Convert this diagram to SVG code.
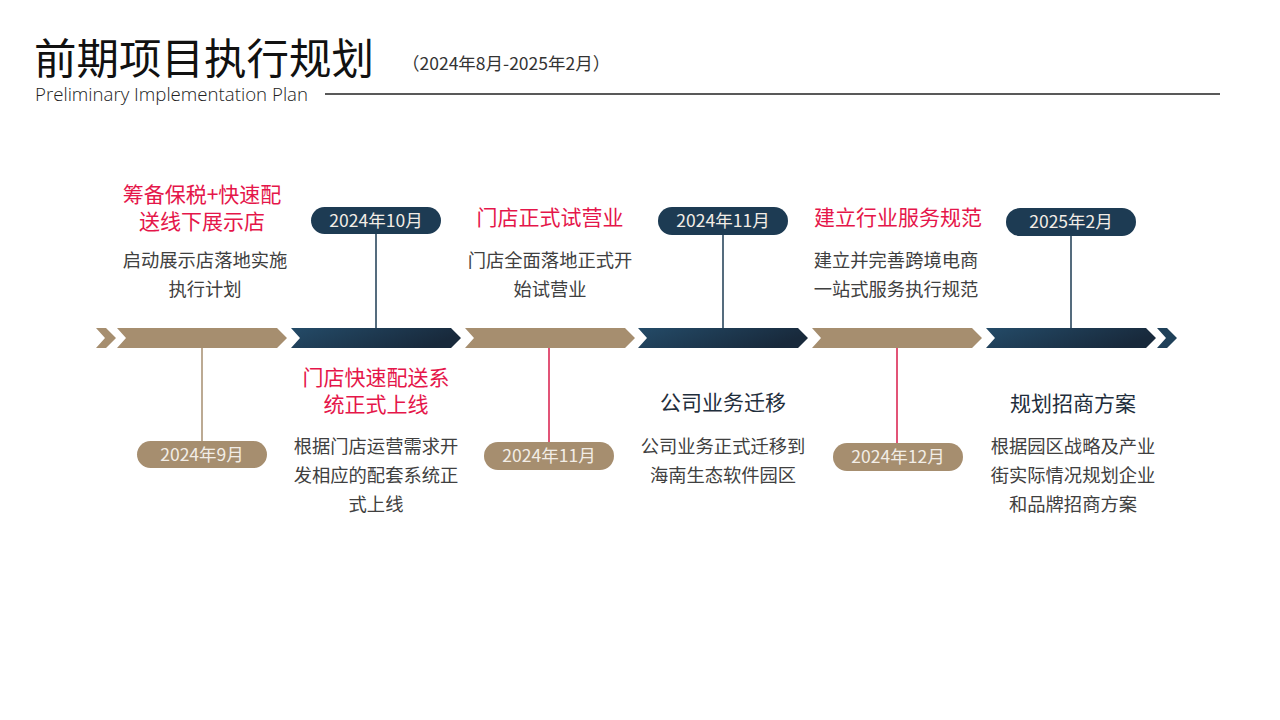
<svg xmlns="http://www.w3.org/2000/svg" width="1280" height="720" viewBox="0 0 1280 720">
<defs>
<linearGradient id="blueGrad" x1="0" y1="0" x2="1" y2="0.3">
<stop offset="0" stop-color="#244b68"/>
<stop offset="1" stop-color="#18293b"/>
</linearGradient>
<polygon id="chev" points="0,328 160,328 170,338 160,348 0,348 9,338"/>
<style>
.cjk{font-family:"Noto Sans CJK SC","Noto Sans",sans-serif;}
.title{font-size:21px;fill:#e5164a;text-anchor:middle;}
.dtitle{font-size:21px;fill:#1f2e3c;text-anchor:middle;}
.desc{font-size:18.3px;fill:#404040;text-anchor:middle;}
.pilltxt{font-size:17.5px;fill:#f2ede6;text-anchor:middle;}
.brown{fill:#a68e6f;}
.blue{fill:url(#blueGrad);}
.pillblue{fill:#1d3b53;}
</style>
</defs>
<rect width="1280" height="720" fill="#ffffff"/>

<g id="header">
<text x="34" y="74" class="cjk" font-size="42.5" fill="#111111">前期项目执行规划</text>
<text x="402" y="70" class="cjk" font-size="17.5" fill="#333333">（2024年8月-2025年2月）</text>
<text x="35" y="101" font-family="'Open Sans','Noto Sans',sans-serif" font-size="18" fill="#222222" font-weight="300" textLength="273" lengthAdjust="spacingAndGlyphs">Preliminary Implementation Plan</text>
<line x1="325" y1="94" x2="1220" y2="94" stroke="#222222" stroke-width="1.5"/>
</g>

<g id="timeline">
<polygon class="brown" points="96,328 106,328 116,338 106,348 96,348 105,338"/>
<use href="#chev" x="117" class="brown"/>
<use href="#chev" x="291" class="blue"/>
<use href="#chev" x="465" class="brown"/>
<use href="#chev" x="638" class="blue"/>
<use href="#chev" x="812" class="brown"/>
<use href="#chev" x="986" class="blue"/>
<polygon fill="#1f4059" points="1157,328 1167,328 1177,338 1167,348 1157,348 1166,338"/>
</g>

<g id="connectors" stroke-width="1.5">
<line x1="202" y1="348" x2="202" y2="441" stroke="#a68e6f"/>
<line x1="376" y1="234" x2="376" y2="328" stroke="#1d3b53"/>
<line x1="549" y1="348" x2="549" y2="442" stroke="#d81b4a"/>
<line x1="723" y1="235" x2="723" y2="328" stroke="#1d3b53"/>
<line x1="897" y1="348" x2="897" y2="443" stroke="#d81b4a"/>
<line x1="1071" y1="235" x2="1071" y2="328" stroke="#1d3b53"/>
</g>

<g id="node1" class="cjk">
<text class="title" x="202" y="202">筹备保税+快速配</text>
<text class="title" x="202" y="229">送线下展示店</text>
<text class="desc" x="205" y="267">启动展示店落地实施</text>
<text class="desc" x="205" y="296">执行计划</text>
<rect class="brown" x="137" y="441" width="130" height="27" rx="13.5"/>
<text class="pilltxt" x="202" y="461">2024年9月</text>
</g>

<g id="node2" class="cjk">
<rect class="pillblue" x="311" y="207" width="130" height="27" rx="13.5"/>
<text class="pilltxt" x="376" y="227">2024年10月</text>
<text class="title" x="376" y="385">门店快速配送系</text>
<text class="title" x="376" y="412">统正式上线</text>
<text class="desc" x="376" y="453">根据门店运营需求开</text>
<text class="desc" x="376" y="482">发相应的配套系统正</text>
<text class="desc" x="376" y="511">式上线</text>
</g>

<g id="node3" class="cjk">
<text class="title" x="550" y="225">门店正式试营业</text>
<text class="desc" x="550" y="267">门店全面落地正式开</text>
<text class="desc" x="550" y="296">始试营业</text>
<rect class="brown" x="484" y="442" width="130" height="28" rx="14"/>
<text class="pilltxt" x="549" y="462">2024年11月</text>
</g>

<g id="node4" class="cjk">
<rect class="pillblue" x="658" y="207" width="130" height="28" rx="14"/>
<text class="pilltxt" x="723" y="227">2024年11月</text>
<text class="dtitle" x="723" y="410">公司业务迁移</text>
<text class="desc" x="723" y="453">公司业务正式迁移到</text>
<text class="desc" x="723" y="482">海南生态软件园区</text>
</g>

<g id="node5" class="cjk">
<text class="title" x="898" y="225">建立行业服务规范</text>
<text class="desc" x="896" y="267">建立并完善跨境电商</text>
<text class="desc" x="896" y="296">一站式服务执行规范</text>
<rect class="brown" x="833" y="443" width="130" height="28" rx="14"/>
<text class="pilltxt" x="898" y="463">2024年12月</text>
</g>

<g id="node6" class="cjk">
<rect class="pillblue" x="1006" y="208" width="130" height="28" rx="14"/>
<text class="pilltxt" x="1071" y="228">2025年2月</text>
<text class="dtitle" x="1073" y="411">规划招商方案</text>
<text class="desc" x="1073" y="453">根据园区战略及产业</text>
<text class="desc" x="1073" y="482">街实际情况规划企业</text>
<text class="desc" x="1073" y="511">和品牌招商方案</text>
</g>
</svg>
